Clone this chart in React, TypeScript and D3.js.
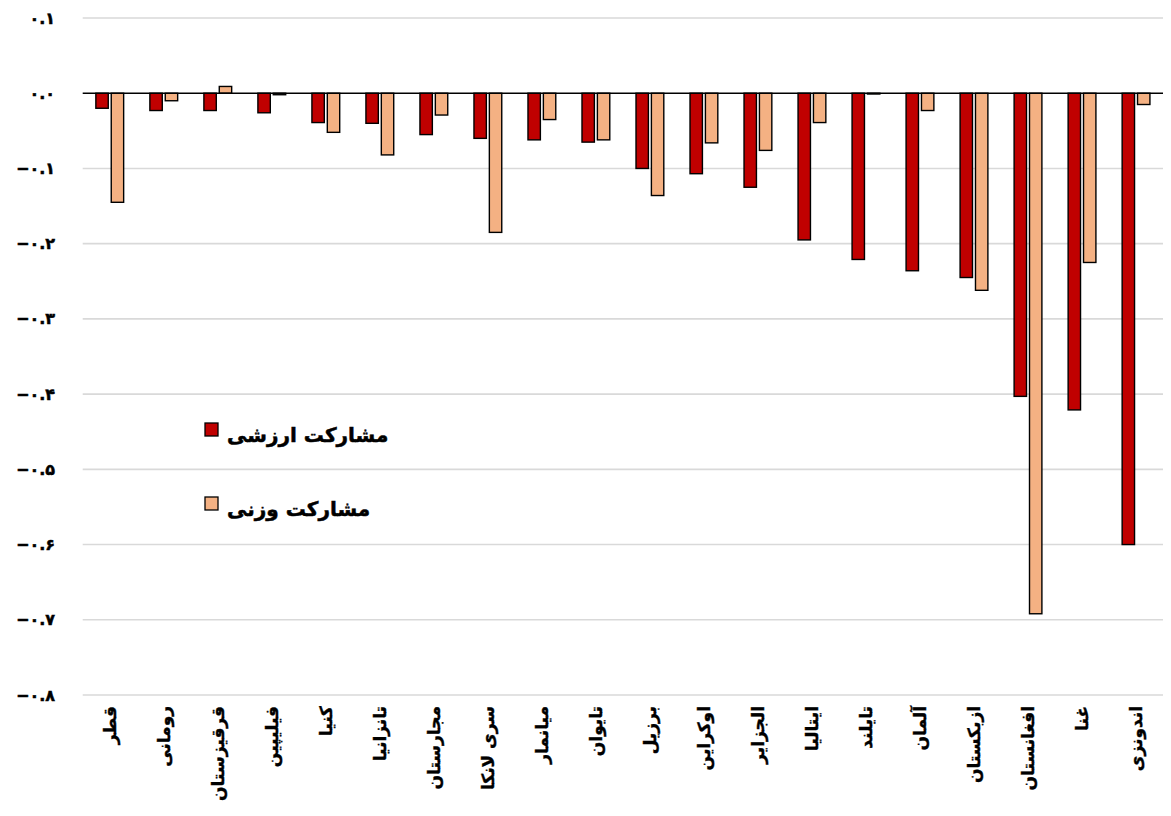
import React from "react";
import * as d3 from "d3";

const categories = [
  "قطر", "رومانی", "قرقیزستان", "فیلیپین", "کنیا", "تانزانیا", "مجارستان",
  "سری لانکا", "میانمار", "تایوان", "برزیل", "اوکراین", "الجزایر", "ایتالیا",
  "تایلند", "آلمان", "ازبکستان", "افغانستان", "غنا", "اندونزی",
];
const valueShare = [
  -0.020, -0.023, -0.023, -0.026, -0.039, -0.040, -0.055, -0.060, -0.062, -0.065,
  -0.100, -0.107, -0.125, -0.195, -0.221, -0.236, -0.245, -0.403, -0.421, -0.600,
];
const weightShare = [
  -0.145, -0.010, 0.009, -0.002, -0.052, -0.082, -0.029, -0.185, -0.035, -0.062,
  -0.136, -0.066, -0.076, -0.039, -0.001, -0.023, -0.262, -0.692, -0.225, -0.015,
];
const seriesNames = ["مشارکت ارزشی", "مشارکت وزنی"];
const seriesColors = ["#c00000", "#f4b183"];
const yTicks = [0.1, 0, -0.1, -0.2, -0.3, -0.4, -0.5, -0.6, -0.7, -0.8];

const W = 1171;
const H = 816;
const FONT = "'DejaVu Sans', sans-serif";

const toFa = (s: string) => s.replace(/[0-9]/g, (d) => "۰۱۲۳۴۵۶۷۸۹"[+d]);
const fmt = (v: number) => {
  const s = Math.abs(v).toFixed(1);
  return (v < -1e-9 ? "−" : "") + toFa(s);
};

export default function App() {
  const left = 82.7;
  const right = 1163;
  const y = d3.scaleLinear().domain([0.1, -0.8]).range([18, 695]);
  const x = d3.scaleBand<string>().domain(categories).range([left, right]).padding(0);
  const inner = d3.scaleBand<number>().domain([0, 1]).range([0, 27.7]).paddingInner(0.2);
  const barW = 12.4;
  const series = [valueShare, weightShare];

  return (
    <svg width={W} height={H} style={{ position: "absolute", left: 0, top: 0, background: "#fff" }}>
      {yTicks.map((t) =>
        t === 0 ? null : (
          <line key={"g" + t} x1={left} x2={right} y1={y(t)} y2={y(t)} stroke="#d9d9d9" strokeWidth={1.6} />
        )
      )}
      {yTicks.map((t) => (
        <text
          key={"t" + t}
          x={55}
          y={y(t)}
          textAnchor="end"
          dominantBaseline="central"
          fontFamily={FONT}
          fontWeight="bold"
          fontSize={16}
          direction="ltr"
          fill="#000"
          stroke="#000"
          strokeWidth={0.5}
        >
          {fmt(t)}
        </text>
      ))}
      {categories.map((c, i) => {
        const x0 = (x(c) as number) + x.bandwidth() / 2 - 13.85;
        return (
          <g key={c}>
            {series.map((s, k) => {
              const v = s[i];
              const y0 = y(Math.max(0, v));
              const y1 = y(Math.min(0, v));
              return (
                <rect
                  key={k}
                  x={x0 + (inner(k) as number)}
                  y={y0}
                  width={barW}
                  height={Math.max(0.8, y1 - y0)}
                  fill={seriesColors[k]}
                  stroke="#000"
                  strokeWidth={1.4}
                />
              );
            })}
          </g>
        );
      })}
      <line x1={left} x2={right} y1={y(0)} y2={y(0)} stroke="#000" strokeWidth={1.6} />
      {categories.map((c) => (
        <text
          key={"l" + c}
          transform={`translate(${(x(c) as number) + x.bandwidth() / 2},706) rotate(-90)`}
          textAnchor="end"
          dominantBaseline="central"
          fontFamily={FONT}
          fontWeight="bold"
          fontSize={17}
          fill="#000"
          stroke="#000"
          strokeWidth={0.4}
        >
          {c}
        </text>
      ))}
      {seriesNames.map((n, k) => (
        <g key={n} transform={`translate(205,${423 + k * 74})`}>
          <rect x={0} y={0} width={13} height={13} fill={seriesColors[k]} stroke="#000" strokeWidth={1.3} />
          <text
            x={22}
            y={19}
            textAnchor="start"
            fontFamily={FONT}
            fontWeight="bold"
            fontSize={20}
            fill="#000"
            stroke="#000"
            strokeWidth={0.5}
          >
            {n}
          </text>
        </g>
      ))}
    </svg>
  );
}
